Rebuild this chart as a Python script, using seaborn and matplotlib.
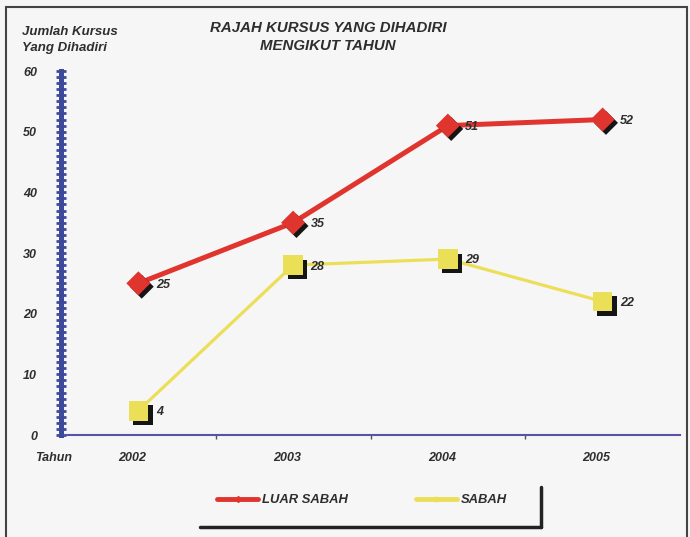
import numpy as np
import pandas as pd
import matplotlib
matplotlib.use('Agg')
import matplotlib.pyplot as plt
import matplotlib.patheffects as pe
from matplotlib.lines import Line2D
from matplotlib.patches import Rectangle
from matplotlib.ticker import MultipleLocator, FixedLocator
from matplotlib.transforms import ScaledTranslation
import seaborn as sns

# ---- data ----
years = ['2002', '2003', '2004', '2005']
luar_sabah = [25, 35, 51, 52]
sabah = [4, 28, 29, 22]
series_names = ['LUAR SABAH', 'SABAH']
y_ticks = [0, 10, 20, 30, 40, 50, 60]

title = 'RAJAH KURSUS YANG DIHADIRI\nMENGIKUT TAHUN'
y_label = 'Jumlah Kursus\nYang Dihadiri'
x_label = 'Tahun'

# ---- styles ----
RED = '#e0342e'
YEL = '#ebdf58'
NAVY = '#3d4a9c'
AXPURPLE = '#5a52a6'
TXT = '#2e2e2e'
BG = '#f6f6f6'

sns.set_theme(style='white')
plt.rcParams['font.family'] = ['Liberation Sans', 'DejaVu Sans']
plt.rcParams['font.weight'] = 'bold'
plt.rcParams['font.style'] = 'italic'

df = pd.DataFrame({
    'Tahun': years * 2,
    'Kursus': luar_sabah + sabah,
    'Kawasan': [series_names[0]] * len(years) + [series_names[1]] * len(years),
})

W, H = 690, 537
fig = plt.figure(figsize=(W / 100, H / 100), dpi=100)
fig.patch.set_facecolor(BG)
ax = fig.add_axes([61 / W, 1 - 435 / H, 619 / W, (435 - 71) / H])
ax.set_facecolor('none')

styles = {
    series_names[0]: dict(color=RED, lw=3.6, marker='D', s=150, shadow=(2.4, -2.4)),
    series_names[1]: dict(color=YEL, lw=2.3, marker='s', s=200, shadow=(3.2, -3.2)),
}

for name in series_names:
    st = styles[name]
    d = df[df['Kawasan'] == name]
    sns.lineplot(data=d, x='Tahun', y='Kursus', color=st['color'], lw=st['lw'],
                 ax=ax, legend=False, zorder=3)
    sns.scatterplot(data=d, x='Tahun', y='Kursus', marker=st['marker'], s=st['s'],
                    color=st['color'], edgecolor='none', ax=ax, legend=False, zorder=5)
    ax.collections[-1].set_path_effects([
        pe.SimplePatchShadow(offset=st['shadow'], shadow_rgbFace='#151515', alpha=1),
        pe.Normal()])
    for i, v in enumerate(d['Kursus']):
        ax.annotate(str(v), (i, v), xytext=(12.5, -1), textcoords='offset points',
                    ha='left', va='center', fontsize=9, color=TXT, zorder=6)

ax.set_xlim(-0.5, 3.5)
ax.set_ylim(0, 60)
ax.set_xlabel('')
ax.set_ylabel('')
ax.set_xticks(range(len(years)))
ax.set_xticklabels(years)
ax.set_yticks(y_ticks)
ax.yaxis.set_minor_locator(MultipleLocator(1))
ax.xaxis.set_minor_locator(FixedLocator([0.5, 1.5, 2.5]))

for s in ['top', 'right']:
    ax.spines[s].set_visible(False)
ax.spines['left'].set(color=NAVY, lw=3.6, zorder=4)
ax.spines['bottom'].set(color=AXPURPLE, lw=1.5)

ax.tick_params(axis='y', which='both', direction='inout', length=6.5, width=2,
               color=NAVY, left=True)
ax.tick_params(axis='y', which='major', pad=14, labelsize=9, labelcolor=TXT)
ax.tick_params(axis='x', which='major', length=0, pad=12, labelsize=9, labelcolor=TXT)
ax.tick_params(axis='x', which='minor', direction='out', length=3, width=1,
               color='#555555', bottom=True)
for lab in ax.get_xticklabels():
    lab.set_transform(lab.get_transform() + ScaledTranslation(-6 / 100, 0, fig.dpi_scale_trans))

# titles
fig.text(328 / W, 1 - 37 / H, title, ha='center', va='center', fontsize=10.8,
         color=TXT, linespacing=1.35)
fig.text(22 / W, 1 - 40 / H, y_label, ha='left', va='center', fontsize=9.5,
         color=TXT, linespacing=1.45)
fig.text(35 / W, 1 - 458 / H, x_label, ha='left', va='center', fontsize=9, color=TXT)

# legend
handles = [Line2D([], [], color=RED, lw=3.5, marker='D', ms=3),
           Line2D([], [], color=YEL, lw=3.5, marker='s', ms=3)]
fig.legend(handles, series_names, loc='center left', bbox_to_anchor=(217 / W, 1 - 500 / H),
           ncol=2, frameon=False, fontsize=9.4, handlelength=3.15, handletextpad=0.3,
           columnspacing=5.2, borderpad=0, borderaxespad=0, labelcolor=TXT)
fig.add_artist(Line2D([200 / W, 541 / W], [1 - 527 / H] * 2, color='#222222', lw=2.5,
                      transform=fig.transFigure))
fig.add_artist(Line2D([541 / W, 541 / W], [1 - 487 / H, 1 - 527 / H], color='#222222', lw=2.5,
                      transform=fig.transFigure))

# outer frame
fig.add_artist(Rectangle((6 / W, -0.05), (687 - 6) / W, 1.05 - 7 / H, fill=False,
                         edgecolor='#444444', lw=1.5, transform=fig.transFigure))

fig.savefig('out.png', dpi=100, facecolor=BG)
